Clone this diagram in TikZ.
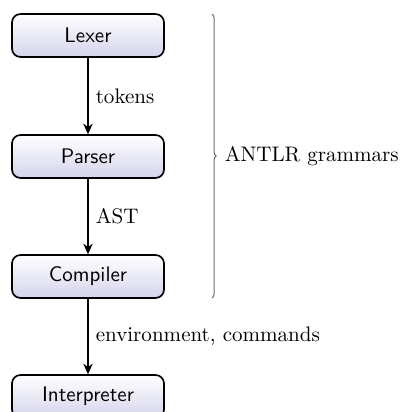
\documentclass[tikz,border=0pt]{standalone}
\usetikzlibrary{decorations.pathreplacing,arrows.meta}
\definecolor{boxbot}{RGB}{212,212,236}
\definecolor{bracegray}{RGB}{110,110,110}
\tikzset{
  stage/.style={draw, thick, rounded corners=4pt, top color=white, bottom color=boxbot,
    minimum width=72.2pt, minimum height=20.4pt, inner sep=0pt, font=\sffamily},
  flow/.style={thick, -{Stealth[length=5pt,width=4.5pt]}},
  lbl/.style={midway, right, inner sep=3.3pt}
}
\begin{document}
\begin{tikzpicture}[x=0.475pt, y=-0.475pt]
\useasboundingbox (0,0) rectangle (401,412);
\node[stage] (lex) at (88,35.5) {Lexer};
\node[stage] (par) at (88,156.5) {Parser};
\node[stage] (com) at (88,276.5) {Compiler};
\node[stage] (int) at (88,396.5) {Interpreter};
\draw[flow] (lex) -- node[lbl] {tokens} (par);
\draw[flow] (par) -- node[lbl] {AST} (com);
\draw[flow] (com) -- node[lbl] {environment, commands} (int);
\coordinate (bt) at (212,14);
\coordinate (bb) at (212,298);
\draw[bracegray, line width=0.5pt, decorate, decoration={brace, amplitude=2pt}] (bt) -- (bb)
  node[midway, right, xshift=2.5pt, text=black] (ant) {ANTLR grammars};
\end{tikzpicture}
\end{document}
